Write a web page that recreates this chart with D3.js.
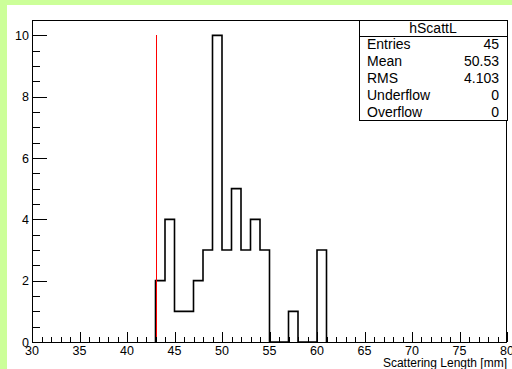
<!DOCTYPE html>
<html><head><meta charset="utf-8">
<script src="https://cdn.jsdelivr.net/npm/d3@7"></script>
<style>html,body{margin:0;padding:0;background:#ccff99;}svg{display:block;}</style>
</head><body>
<script>
// Data
const binLow = [43,44,45,46,47,48,49,50,51,52,53,54,55,56,57,58,59,60];
const counts = [2,4,1,1,2,3,10,3,5,3,4,3,0,0,1,0,0,3];
const binWidth = 1;
const cutValue = 43;
const cutHeight = 10;
const xTicks = [30,35,40,45,50,55,60,65,70,75,80];
const yTicks = [0,2,4,6,8,10];
const statsTitle = "hScattL";
const statsLabels = ["Entries","Mean","RMS","Underflow","Overflow"];
const statsValues = ["45","50.53","4.103","0","0"];
const xTitle = "Scattering Length [mm]";

const W = 512, H = 369;
const svg = d3.select("body").append("svg").attr("width", W).attr("height", H);
svg.append("rect").attr("width", W).attr("height", H).attr("fill", "#ccff99");
svg.append("rect").attr("x", 7).attr("y", 5).attr("width", W-7).attr("height", H-5).attr("fill", "#fff");

const L = 32, R = 507, T = 20, B = 342;
const x = d3.scaleLinear().domain([30, 80]).range([L, R]);
const y = d3.scaleLinear().domain([0, 10.5]).range([B, T]);
const font = "Liberation Sans, Arial, Helvetica, sans-serif";

// histogram step line
const pts = [];
pts.push([x(binLow[0]), y(0)]);
binLow.forEach((b, i) => {
  pts.push([x(b), y(counts[i])]);
  pts.push([x(b + binWidth), y(counts[i])]);
});
pts.push([x(binLow[binLow.length-1] + binWidth), y(0)]);
svg.append("path").attr("d", d3.line()(pts)).attr("fill", "none").attr("stroke", "#000").attr("stroke-width", 1.6);

// cut line
svg.append("line").attr("x1", Math.round(x(cutValue))+0.5).attr("x2", Math.round(x(cutValue))+0.5)
  .attr("y1", y(0)).attr("y2", y(cutHeight))
  .attr("stroke", "#ff0000").attr("stroke-width", 1).attr("shape-rendering", "crispEdges");

// ticks
const g = svg.append("g").attr("stroke", "#000").attr("stroke-width", 1).attr("shape-rendering", "crispEdges");
d3.range(30, 80.001, 1).forEach(v => {
  const major = Math.abs(v % 5) < 1e-9;
  const len = major ? 10 : 5;
  g.append("line").attr("x1", Math.round(x(v))+0.5).attr("x2", Math.round(x(v))+0.5).attr("y1", B).attr("y2", B-len);
});
d3.range(0, 10.501, 0.5).forEach(v => {
  const major = Math.abs(v % 2) < 1e-9;
  const len = major ? 15 : 8;
  g.append("line").attr("x1", L).attr("x2", L+len).attr("y1", Math.round(y(v))+0.5).attr("y2", Math.round(y(v))+0.5);
});

// frame
svg.append("rect").attr("x", L+0.5).attr("y", T+0.5).attr("width", R-L-1).attr("height", B-T)
  .attr("fill", "none").attr("stroke", "#000").attr("stroke-width", 1).attr("shape-rendering", "crispEdges");

// tick labels
svg.append("g").selectAll("text").data(xTicks).join("text")
  .attr("x", d => x(d)).attr("y", 355).attr("text-anchor", "middle")
  .attr("font-family", font).attr("font-size", 12.5).text(d => d);
svg.append("g").selectAll("text").data(yTicks).join("text")
  .attr("x", 29).attr("y", d => y(d)+4.5).attr("text-anchor", "end")
  .attr("font-family", font).attr("font-size", 12.5).text(d => d);

svg.append("text").attr("x", 507).attr("y", 367).attr("text-anchor", "end")
  .attr("font-family", font).attr("font-size", 12).text(xTitle);

// stats box
const bx0 = 359, bx1 = 507, by0 = 20, by1 = 120, hdr = 36;
svg.append("rect").attr("x", bx0+0.5).attr("y", by0+0.5).attr("width", bx1-bx0).attr("height", by1-by0)
  .attr("fill", "#fff").attr("stroke", "#000").attr("stroke-width", 1).attr("shape-rendering", "crispEdges");
svg.append("line").attr("x1", bx0).attr("x2", bx1).attr("y1", hdr+0.5).attr("y2", hdr+0.5).attr("stroke", "#000")
  .attr("shape-rendering", "crispEdges");
svg.append("text").attr("x", 433).attr("y", 33).attr("text-anchor", "middle")
  .attr("font-family", font).attr("font-size", 14).text(statsTitle);
const rowH = (by1 - hdr) / statsLabels.length;
statsLabels.forEach((lab, i) => {
  const yy = hdr + rowH*(i+0.5) + 5;
  svg.append("text").attr("x", 367).attr("y", yy).attr("font-family", font).attr("font-size", 14).text(lab);
  svg.append("text").attr("x", 499).attr("y", yy).attr("text-anchor", "end").attr("font-family", font).attr("font-size", 14).text(statsValues[i]);
});
</script>
</body></html>
